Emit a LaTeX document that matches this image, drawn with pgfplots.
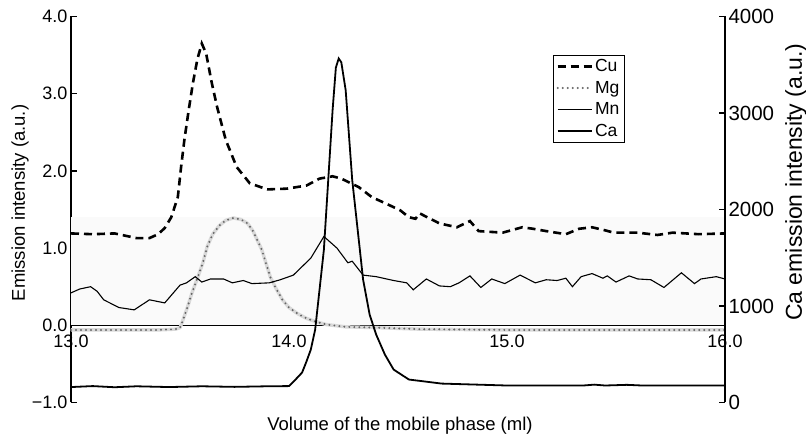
\documentclass[border=0pt]{standalone}
\usepackage{fontspec}
\setmainfont{Liberation Sans}
\usepackage{pgfplots}
\pgfplotsset{compat=1.18}

\pgfplotstableread{
x y
13.00 1.19
13.10 1.18
13.20 1.19
13.25 1.16
13.30 1.13
13.36 1.13
13.40 1.18
13.43 1.26
13.46 1.40
13.49 1.66
13.505 2.05
13.52 2.40
13.54 2.79
13.56 3.15
13.58 3.45
13.60 3.65
13.62 3.52
13.645 3.15
13.67 2.83
13.71 2.40
13.76 2.05
13.82 1.84
13.90 1.76
13.99 1.77
14.08 1.81
14.14 1.90
14.20 1.93
14.24 1.90
14.32 1.79
14.38 1.66
14.45 1.57
14.51 1.49
14.55 1.40
14.58 1.38
14.60 1.45
14.62 1.42
14.69 1.32
14.77 1.27
14.83 1.35
14.87 1.22
14.98 1.20
15.07 1.27
15.12 1.25
15.18 1.22
15.27 1.18
15.33 1.25
15.39 1.27
15.45 1.23
15.49 1.20
15.60 1.20
15.69 1.17
15.76 1.20
15.88 1.18
16.00 1.19
}\Cu

\pgfplotstableread{
x y
13.00 -0.06
13.10 -0.06
13.20 -0.06
13.30 -0.06
13.40 -0.06
13.48 -0.05
13.50 -0.03
13.51 0.04
13.535 0.24
13.555 0.42
13.58 0.61
13.605 0.81
13.625 1.02
13.65 1.18
13.68 1.29
13.71 1.36
13.745 1.39
13.78 1.37
13.81 1.32
13.835 1.22
13.855 1.10
13.875 0.98
13.895 0.80
13.915 0.62
13.94 0.48
13.97 0.33
14.00 0.23
14.04 0.15
14.08 0.09
14.12 0.05
14.17 0.01
14.26 -0.02
14.40 -0.03
14.60 -0.05
15.00 -0.06
15.50 -0.06
16.00 -0.06
}\Mg

\pgfplotstableread{
x y
13.00 0.42
13.04 0.47
13.09 0.50
13.12 0.44
13.15 0.33
13.22 0.23
13.29 0.20
13.36 0.33
13.43 0.29
13.50 0.52
13.53 0.55
13.57 0.63
13.60 0.56
13.64 0.60
13.70 0.60
13.74 0.55
13.79 0.58
13.83 0.54
13.91 0.55
13.96 0.59
14.02 0.65
14.10 0.87
14.16 1.15
14.22 1.00
14.27 0.81
14.29 0.83
14.34 0.65
14.40 0.63
14.48 0.58
14.54 0.55
14.57 0.46
14.63 0.60
14.69 0.51
14.74 0.50
14.78 0.55
14.83 0.64
14.88 0.49
14.93 0.60
14.99 0.54
15.06 0.65
15.13 0.55
15.18 0.59
15.23 0.58
15.27 0.61
15.30 0.50
15.34 0.63
15.39 0.67
15.44 0.61
15.46 0.64
15.50 0.56
15.56 0.64
15.60 0.60
15.66 0.59
15.72 0.49
15.80 0.68
15.86 0.54
15.89 0.60
15.96 0.63
16.00 0.60
}\Mn

\pgfplotstableread{
x y
13.00 160
13.10 170
13.20 158
13.30 168
13.45 160
13.60 168
13.75 162
13.90 168
14.00 170
14.03 238
14.06 310
14.08 424
14.10 548
14.12 755
14.14 1168
14.16 1582
14.18 2306
14.20 3030
14.215 3470
14.228 3565
14.24 3525
14.26 3236
14.29 2306
14.32 1686
14.34 1272
14.37 910
14.40 703
14.44 496
14.48 341
14.55 238
14.70 196
15.00 176
15.35 176
15.40 185
15.45 176
15.55 183
15.62 176
16.00 176
}\Ca

\tikzset{
  custyle/.style={black, line width=2.6pt, dash pattern=on 8pt off 5pt},
  mgstyle/.style={black!60, line width=2.2pt, line cap=round, dash pattern=on 0pt off 5pt},
  mnstyle/.style={black, line width=1.1pt},
  castyle/.style={black, line width=1.8pt},
}

\begin{document}
\begin{tikzpicture}
\useasboundingbox (-71pt,-35.5pt) rectangle (735pt,402.5pt);
\begin{axis}[
  scale only axis, width=654pt, height=386pt,
  xmin=13, xmax=16, ymin=-1, ymax=4,
  axis x line=middle, axis y line=left,
  hide obscured x ticks=false, hide obscured y ticks=false,
  x axis line style={-, line width=1.3pt},
  y axis line style={-, line width=2pt},
  tick align=inside,
  major tick length=6pt, minor tick length=6pt,
  tick style={black, line width=1.5pt},
  xtick={13,14,15,16}, xticklabels={13.0,14.0,15.0,16.0},
  minor xtick={13.5,14.5,15.5},
  ytick={-1,0,1,2,3,4}, yticklabels={−1.0,0.0,1.0,2.0,3.0,4.0},
  tick label style={font=\fontsize{18}{21}\selectfont},
  xticklabel style={yshift=-6.5pt},
  /pgf/number format/assume math mode=true,
  xlabel={Volume of the mobile phase (ml)},
  xlabel style={at={([yshift=-28pt]axis description cs:0.503,0)}, anchor=base, font=\fontsize{18.5}{21}\selectfont},
  ylabel={Emission intensity (a.u.)},
  ylabel style={at={([xshift=-51pt]axis description cs:0,0.517)}, anchor=center, rotate=0, font=\fontsize{18.5}{21}\selectfont},
  clip=false,
]
\addplot[draw=none, fill=black!2, forget plot] coordinates {(13,0) (16,0) (16,1.4) (13,1.4)} -- cycle;
\addplot[black!15, line width=3.4pt, forget plot] table {\Mg};
\addplot[mgstyle] table {\Mg};
\addplot[mnstyle] table {\Mn};
\addplot[custyle] table {\Cu};
\end{axis}
\begin{axis}[
  scale only axis, width=654pt, height=386pt,
  xmin=13, xmax=16, ymin=0, ymax=4000,
  axis x line=none, axis y line=right,
  hide obscured y ticks=false,
  y axis line style={-, line width=2pt},
  tick align=inside,
  major tick length=6pt,
  tick style={black, line width=1.5pt},
  ytick={0,1000,2000,3000,4000}, yticklabels={0,1000,2000,3000,4000},
  scaled y ticks=false,
  tick label style={font=\fontsize{20.5}{23}\selectfont},
  ylabel={Ca emission intensity (a.u.)},
  ylabel style={at={([xshift=71pt]axis description cs:1,0.571)}, anchor=center, rotate=0, font=\fontsize{23}{26}\selectfont},
  legend style={at={(axis description cs:0.737,0.900)}, anchor=north west, draw=black, line width=0.8pt,
    font=\fontsize{17.5}{20}\selectfont, inner xsep=3pt, inner ysep=2pt, row sep=4pt},
  legend cell align=left,
  legend image code/.code={\draw[#1] (0pt,0pt) -- (34pt,0pt);},
  clip=false,
]
\addlegendimage{custyle}
\addlegendentry{Cu}
\addlegendimage{mgstyle}
\addlegendentry{Mg}
\addlegendimage{mnstyle}
\addlegendentry{Mn}
\addplot[castyle] table {\Ca};
\addlegendentry{Ca}
\end{axis}
\end{tikzpicture}
\end{document}
